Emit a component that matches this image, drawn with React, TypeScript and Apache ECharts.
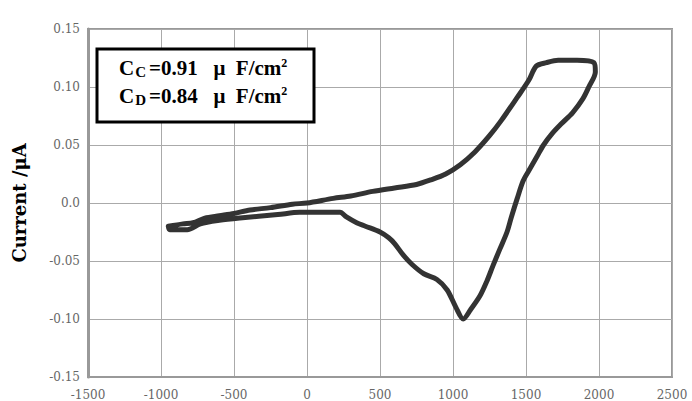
import React, { useEffect, useRef } from "react";
import * as echarts from "echarts";

const potential = [
  -950, -850, -780, -700, -600, -500, -390, -250, -100, 0, 180, 300, 450, 600, 750, 850, 950, 1050,
  1150, 1250, 1330, 1440, 1520, 1570, 1640, 1720, 1850, 1965,
  1975, 1930, 1890, 1820, 1740, 1680, 1620, 1575, 1520, 1480, 1440, 1400, 1370, 1320, 1274, 1230,
  1185, 1120, 1070, 1020, 960, 890, 800, 720, 660, 600, 560, 500, 400, 340, 270, 226, 180, 50, -50,
  -200, -460, -600, -730, -820, -940, -950,
];
const current = [
  -0.02, -0.018, -0.017, -0.013, -0.011, -0.009, -0.006, -0.004, -0.001, 0.0, 0.004, 0.006, 0.01,
  0.013, 0.016, 0.02, 0.025, 0.033, 0.044, 0.058, 0.071, 0.091, 0.106, 0.118, 0.121, 0.123, 0.123,
  0.121,
  0.113, 0.1, 0.09, 0.078, 0.068, 0.06, 0.05, 0.04, 0.028, 0.019, 0.004, -0.012, -0.025, -0.04,
  -0.054, -0.068, -0.08, -0.092, -0.1, -0.09, -0.075, -0.066, -0.061, -0.053, -0.045, -0.035, -0.03,
  -0.025, -0.02, -0.017, -0.012, -0.008, -0.008, -0.008, -0.008, -0.01, -0.013, -0.015, -0.018,
  -0.023, -0.023, -0.02,
];
const yTickLabels = ["-0.15", "-0.10", "-0.05", "0.0", "0.05", "0.10", "0.15"];
const yTicks = [-0.15, -0.1, -0.05, 0, 0.05, 0.1, 0.15];
const legendLines = [
  { sub: "C", value: "=0.91" },
  { sub: "D", value: "=0.84" },
];

export default function App() {
  const ref = useRef<HTMLDivElement>(null);
  useEffect(() => {
    if (!ref.current) return;
    const chart = echarts.init(ref.current, null, { renderer: "svg" });
    const serif = "Liberation Serif";
    const tickFont = "DejaVu Serif";
    const data = potential.map((x, i) => [x, current[i]]);
    const richStyles = {
      b: { fontFamily: serif, fontWeight: "bold", fontSize: 21, color: "#000" },
      sub: { fontFamily: serif, fontWeight: "bold", fontSize: 15, color: "#000", verticalAlign: "bottom", padding: [3, 3, 0, 1] },
      sup: { fontFamily: serif, fontWeight: "bold", fontSize: 12, color: "#000", verticalAlign: "top", padding: [0, 0, 10, 0] },
    };
    chart.setOption({
      animation: false,
      backgroundColor: "#fff",
      grid: { left: 88, right: 20, top: 29, bottom: 23, show: true, borderColor: "#999", borderWidth: 2 },
      xAxis: {
        type: "value",
        min: -1500,
        max: 2500,
        interval: 500,
        axisLine: { show: true, onZero: false, lineStyle: { color: "#999", width: 2 } },
        axisTick: { show: false },
        splitLine: { show: true, lineStyle: { color: "#aaa", width: 1 } },
        axisLabel: {
          color: "#666",
          fontFamily: tickFont,
          fontSize: 12,
          margin: 12,
          formatter: (v: number) => String(v),
        },
      },
      yAxis: {
        type: "value",
        min: -0.15,
        max: 0.15,
        interval: 0.05,
        name: "Current /\u03bcA",
        nameLocation: "middle",
        nameGap: 60,
        nameTextStyle: { fontFamily: tickFont, fontWeight: "bold", fontSize: 18, color: "#000" },
        axisLine: { show: true, onZero: false, lineStyle: { color: "#999", width: 3 } },
        axisTick: { show: false },
        splitLine: { show: true, lineStyle: { color: "#aaa", width: 1 } },
        axisLabel: {
          color: "#666",
          fontFamily: tickFont,
          fontSize: 12,
          margin: 8,
          formatter: (v: number) => {
            const idx = yTicks.findIndex((t) => Math.abs(t - v) < 1e-9);
            return idx >= 0 ? yTickLabels[idx] : "";
          },
        },
      },
      series: [
        {
          type: "line",
          data,
          showSymbol: false,
          smooth: 0.3,
          lineStyle: { color: "#333", width: 5, cap: "round", join: "round" },
        },
      ],
      graphic: [
        {
          type: "rect",
          shape: { x: 97, y: 49, width: 217, height: 73 },
          style: { fill: "#fff", stroke: "#000", lineWidth: 3 },
          z: 100,
        },
        ...legendLines.map((l, i) => ({
          type: "text",
          x: 119,
          y: 57 + i * 28,
          z: 101,
          style: {
            text: `{b|C}{sub|${l.sub}}{b|${l.value}   \u03bc  F/cm}{sup|2}`,
            rich: richStyles,
          },
        })),
      ],
    });
    return () => chart.dispose();
  }, []);
  return <div ref={ref} style={{ position: "absolute", left: 0, top: 0, width: 692, height: 401 }} />;
}
